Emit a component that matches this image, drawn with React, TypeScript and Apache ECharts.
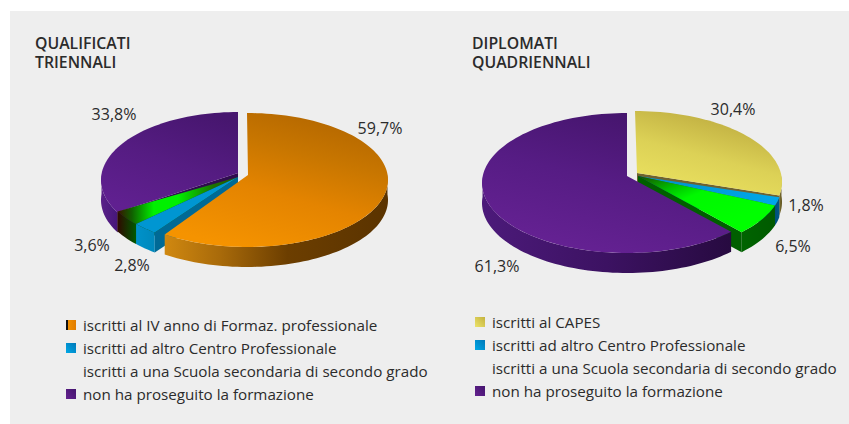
import React, { useEffect, useRef } from "react";
import * as echarts from "echarts";

const FONT = '"Open Sans", "Noto Sans", sans-serif';
const TEXT = "#2b2b2b";

const leftTitle = ["QUALIFICATI", "TRIENNALI"];
const rightTitle = ["DIPLOMATI", "QUADRIENNALI"];

const leftNames = [
  "iscritti al IV anno di Formaz. professionale",
  "iscritti ad altro Centro Professionale",
  "iscritti a una Scuola secondaria di secondo grado",
  "non ha proseguito la formazione",
];
const rightNames = [
  "iscritti al CAPES",
  "iscritti ad altro Centro Professionale",
  "iscritti a una Scuola secondaria di secondo grado",
  "non ha proseguito la formazione",
];
const leftValues = [59.7, 2.8, 3.6, 33.8];
const rightValues = [30.4, 1.8, 6.5, 61.3];
const leftLabels = ["59,7%", "2,8%", "3,6%", "33,8%"];
const rightLabels = ["30,4%", "1,8%", "6,5%", "61,3%"];

type Fill = { dir: number[]; stops: [number, string][] };
type Tone = { top: Fill; wall: Fill; cut: string; swatch: Fill | null };
const H = [0, 0, 1, 0];
const D = [0.75, 0, 0.3, 1];

const leftTones: Tone[] = [
  {
    top: { dir: D, stops: [[0, "#b26600"], [0.3, "#c87600"], [0.6, "#e48400"], [1, "#f59300"]] },
    wall: { dir: H, stops: [[0, "#d08810"], [0.25, "#a86a0a"], [0.55, "#6c3e00"], [1, "#5a3300"]] },
    cut: "#7a4a00",
    swatch: { dir: H, stops: [[0, "#111111"], [0.18, "#111111"], [0.2, "#f29000"], [1, "#e07c00"]] },
  },
  {
    top: { dir: H, stops: [[0, "#0096d2"], [1, "#0096d2"]] },
    wall: { dir: H, stops: [[0, "#0092ca"], [1, "#0088bc"]] },
    cut: "#006a96",
    swatch: { dir: [1, 0, 0, 1], stops: [[0, "#0078b8"], [1, "#00a8e6"]] },
  },
  {
    top: { dir: H, stops: [[0, "#3a1000"], [0.12, "#106000"], [0.3, "#00f000"], [0.5, "#00f000"], [0.8, "#1c7000"], [1, "#2a5a00"]] },
    wall: { dir: H, stops: [[0, "#300800"], [1, "#005a00"]] },
    cut: "#0d4a00",
    swatch: null,
  },
  {
    top: { dir: D, stops: [[0, "#47166f"], [0.5, "#551c82"], [1, "#602090"]] },
    wall: { dir: H, stops: [[0, "#5a2088"], [1, "#46167a"]] },
    cut: "#2f0c4f",
    swatch: { dir: [1, 0, 0, 1], stops: [[0, "#44146e"], [1, "#64228f"]] },
  },
];
const rightTones: Tone[] = [
  {
    top: { dir: D, stops: [[0, "#b9a63c"], [0.55, "#dcd156"], [1, "#ebe260"]] },
    wall: { dir: H, stops: [[0, "#7d7030"], [1, "#5d5220"]] },
    cut: "#6e6230",
    swatch: { dir: [1, 0, 0, 1], stops: [[0, "#c4b23e"], [1, "#ece36a"]] },
  },
  {
    top: { dir: H, stops: [[0, "#0090c8"], [1, "#00a8ea"]] },
    wall: { dir: H, stops: [[0, "#004f78"], [1, "#005a8a"]] },
    cut: "#00527c",
    swatch: { dir: [1, 0, 0, 1], stops: [[0, "#0078b8"], [1, "#00a8e6"]] },
  },
  {
    top: { dir: [0, 0, 0.75, 0.75], stops: [[0, "#1a4a00"], [0.3, "#00c000"], [0.5, "#00f800"], [1, "#00ff00"]] },
    wall: { dir: H, stops: [[0, "#006400"], [1, "#005a00"]] },
    cut: "#005f00",
    swatch: null,
  },
  {
    top: { dir: D, stops: [[0, "#43146a"], [0.5, "#561c84"], [1, "#662294"]] },
    wall: { dir: H, stops: [[0, "#4c1a7a"], [0.5, "#3c1262"], [1, "#270a40"]] },
    cut: "#2f0c4f",
    swatch: { dir: [1, 0, 0, 1], stops: [[0, "#44146e"], [1, "#64228f"]] },
  },
];

type Piece = { cx: number; ax: number; ay: number; ey: number; rx: number; ry: number; k: number; cut: string };
const DEPTH = 20;

const leftPieces: Piece[] = [
  { cx: 247, ax: 248, ay: 175, ey: 180, rx: 141, ry: 67, k: 1, cut: "" },
  { cx: 238, ax: 238, ay: 177, ey: 180, rx: 137, ry: 66, k: 4, cut: "a" },
  { cx: 238, ax: 238, ay: 177, ey: 180, rx: 137, ry: 66, k: 4, cut: "a" },
  { cx: 238, ax: 238, ay: 173, ey: 180, rx: 137, ry: 68, k: 4, cut: "a" },
];
const rightPieces: Piece[] = [
  { cx: 635, ax: 637, ay: 173, ey: 182, rx: 147, ry: 71, k: 9, cut: "b" },
  { cx: 635, ax: 638, ay: 176, ey: 184, rx: 147, ry: 70, k: 9, cut: "b" },
  { cx: 635, ax: 638, ay: 176, ey: 184, rx: 147, ry: 70, k: 9, cut: "b" },
  { cx: 627, ax: 627, ay: 176, ey: 183, rx: 145, ry: 70, k: 8, cut: "" },
];

const leftLabelAt = [[380, 128], [132, 265], [92, 245], [114, 114]];
const rightLabelAt = [[733, 109], [806, 205], [793, 246], [497, 266]];
const rad = (d: number) => (d * Math.PI) / 180;
const warp = (deg: number, k: number) => deg - k * Math.sin(rad(deg));

function rim(p: Piece, deg: number, drop = 0) {
  return [p.cx + p.rx * Math.sin(rad(deg)), p.ey - p.ry * Math.cos(rad(deg)) + drop];
}

function arcPoints(p: Piece, a: number, b: number, drop = 0) {
  const out: number[][] = [];
  const n = Math.max(2, Math.ceil(Math.abs(b - a) / 2));
  for (let i = 0; i <= n; i++) out.push(rim(p, a + ((b - a) * i) / n, drop));
  return out;
}

const paint = (f: Fill) => ({
  type: "linear",
  x: f.dir[0], y: f.dir[1], x2: f.dir[2], y2: f.dir[3],
  colorStops: f.stops.map(([offset, color]) => ({ offset, color })),
});

function pieElements(values: number[], tones: Tone[], pieces: Piece[], order: number[]) {
  const total = values.reduce((a, b) => a + b, 0);
  const spans: number[][] = [];
  let acc = 0;
  values.forEach((v, i) => {
    spans.push([warp((acc / total) * 360, pieces[i].k), warp(((acc + v) / total) * 360, pieces[i].k)]);
    acc += v;
  });
  const children: any[] = [];
  order.forEach((i) => {
    const [a, b] = spans[i];
    const p = pieces[i];
    const t = tones[i];
    const from = Math.max(a, 85);
    const to = Math.min(b, 275);
    if (to > from) {
      children.push({
        type: "polygon",
        shape: { points: [...arcPoints(p, from, to), ...arcPoints(p, from, to, DEPTH).reverse()] },
        style: { fill: paint(t.wall) },
      });
    }
    if (p.cut) {
      const c = rim(p, p.cut === "a" ? a : b);
      children.push({
        type: "polygon",
        shape: { points: [[p.ax, p.ay], c, [c[0], c[1] + DEPTH], [p.ax, p.ay + DEPTH]] },
        style: { fill: t.cut },
      });
    }
    children.push({
      type: "polygon",
      shape: { points: [[p.ax, p.ay], ...arcPoints(p, a, b)] },
      style: { fill: paint(t.top) },
    });
  });
  return children;
}

function legend(size: number, x: number, tx: number, y0: number, list: string[], tones: Tone[]) {
  const out: any[] = [];
  list.forEach((name, i) => {
    const y = y0 + i * 23;
    const swatch = tones[i].swatch;
    if (swatch) {
      out.push({
        type: "rect",
        shape: { x, y: y - 5, width: 10, height: 10 },
        style: { fill: paint(swatch) },
      });
    }
    out.push({
      type: "text", x: tx, y,
      style: { text: name, font: `${size}px ${FONT}`, fill: TEXT, verticalAlign: "middle", align: "left" },
    });
  });
  return out;
}

function labels(list: string[], at: number[][]) {
  return list.map((text, i) => ({
    type: "text", x: at[i][0], y: at[i][1],
    style: { text, font: `16px ${FONT}`, fill: TEXT, align: "center", verticalAlign: "middle" },
  }));
}

function heading(lines: string[], x: number) {
  return {
    type: "text", x, y: 52.5,
    style: {
      text: lines.join("\n"),
      font: `600 15.8px ${FONT}`,
      lineHeight: 19,
      fill: TEXT,
      align: "left",
      verticalAlign: "middle",
    },
  };
}

export default function App() {
  const ref = useRef<HTMLDivElement>(null);
  useEffect(() => {
    const chart = echarts.init(ref.current!, undefined, { renderer: "svg" });
    const pieSeries = (name: string, values: number[], tones: Tone[], pieces: Piece[], order: number[]) => ({
      type: "custom",
      name,
      coordinateSystem: "none",
      silent: true,
      data: [0],
      renderItem: () => ({ type: "group", children: pieElements(values, tones, pieces, order) }),
    });
    chart.setOption({
      animation: false,
      backgroundColor: "#ffffff",
      series: [
        pieSeries("QUALIFICATI TRIENNALI", leftValues, leftTones, leftPieces, [3, 2, 1, 0]),
        pieSeries("DIPLOMATI QUADRIENNALI", rightValues, rightTones, rightPieces, [0, 1, 2, 3]),
      ],
      graphic: [
        { type: "rect", z: -10, shape: { x: 10, y: 11, width: 839, height: 413 }, style: { fill: "#eeeeee" } },
        heading(leftTitle, 35),
        heading(rightTitle, 472),
        ...labels(leftLabels, leftLabelAt),
        ...labels(rightLabels, rightLabelAt),
        ...legend(15.2, 66, 83, 325, leftNames, leftTones),
        ...legend(15.2, 475, 492, 322, rightNames, rightTones),
      ],
    });
    return () => chart.dispose();
  }, []);
  return <div ref={ref} style={{ position: "fixed", left: 0, top: 0, width: 849, height: 424 }} />;
}
